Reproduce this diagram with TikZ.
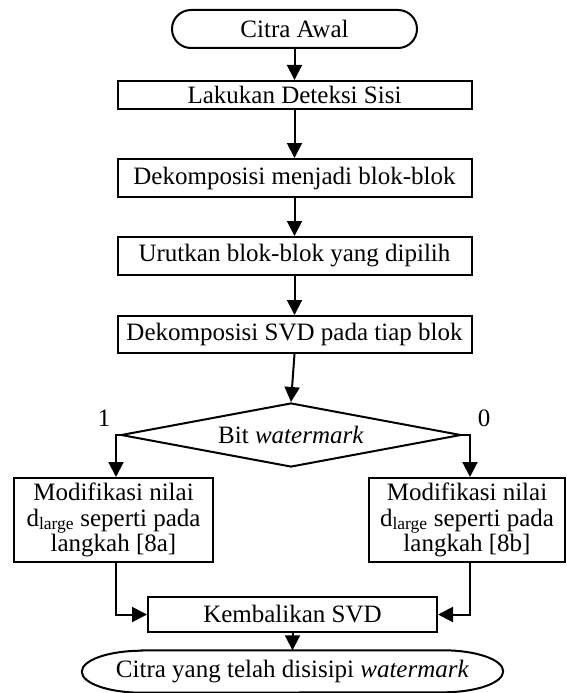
\documentclass[tikz,border=0pt]{standalone}
\usepackage{fontspec}
\setmainfont{Liberation Serif}
\usetikzlibrary{shapes.geometric,arrows.meta}
\begin{document}
\begin{tikzpicture}[x=1pt,y=-1pt,
  every node/.style={font=\fontsize{25}{25.5}\selectfont},
  arr/.style={line width=2pt,-{Triangle[length=15pt,width=15pt]}},
  outline/.style={line width=2pt},
  term/.style={draw,line width=2pt,rectangle,rounded corners=19pt,inner sep=0pt,minimum width=245pt,minimum height=38pt},
  endterm/.style={rectangle,inner sep=0pt,minimum width=421pt,minimum height=42pt},
  stepbox/.style={draw,line width=2pt,rectangle,inner sep=0pt,minimum width=354pt,align=center},
  sidebox/.style={draw,line width=2pt,rectangle,inner sep=0pt,minimum height=84pt,align=center},
  decide/.style={draw,line width=2pt,diamond,aspect=5.3,inner sep=0pt,minimum width=340pt,minimum height=64pt},
  lbl/.style={inner sep=0pt}]
\useasboundingbox (0,0) rectangle (566,693);
\node[term] (start) at (294.5,29) {Citra Awal};
\node[stepbox,minimum height=28pt] (b1) at (294.5,95) {Lakukan Deteksi Sisi};
\node[stepbox,minimum height=38pt] (b2) at (294.5,178) {Dekomposisi menjadi blok-blok};
\node[stepbox,minimum height=38pt] (b3) at (294.5,256) {Urutkan blok-blok yang dipilih};
\node[stepbox,minimum height=37pt] (b4) at (294.5,334.5) {Dekomposisi SVD pada tiap blok};
\node[decide] (dia) at (291,435) {Bit \textit{watermark}};
\node[lbl] (one) at (104,418) {1};
\node[lbl] (zero) at (484,418) {0};
\node[sidebox,minimum width=199pt] (lb) at (113.5,520) {Modifikasi nilai\\d\textsubscript{large} seperti pada\\langkah [8a]};
\node[sidebox,minimum width=196pt] (rb) at (467,520) {Modifikasi nilai\\d\textsubscript{large} seperti pada\\langkah [8b]};
\node[stepbox,minimum width=289pt,minimum height=35pt] (kb) at (292.5,614.5) {Kembalikan SVD};
\node[endterm] (end) at (292.5,671.5) {\makebox[0pt]{Citra yang telah disisipi \textit{watermark}}};
\draw[outline] ([xshift=60pt]end.north west) -- ([xshift=-60pt]end.north east)
  arc[start angle=90,end angle=-90,x radius=60pt,y radius=21pt]
  -- ([xshift=60pt]end.south west)
  arc[start angle=270,end angle=90,x radius=60pt,y radius=21pt] -- cycle;
\draw[arr] (start) -- (b1);
\draw[arr] (b1) -- (b2);
\draw[arr] (b2) -- (b3);
\draw[arr] (b3) -- (b4);
\draw[arr] (b4.south) -- (dia.north);
\draw[arr] (dia.west) -| ([xshift=2.5pt]lb.north);
\draw[arr] (dia.east) -| ([xshift=3pt]rb.north);
\draw[arr] ([xshift=2.5pt]lb.south) |- (kb.west);
\draw[arr] ([xshift=3pt]rb.south) |- (kb.east);
\draw[arr] (kb) -- (end);
\end{tikzpicture}
\end{document}
